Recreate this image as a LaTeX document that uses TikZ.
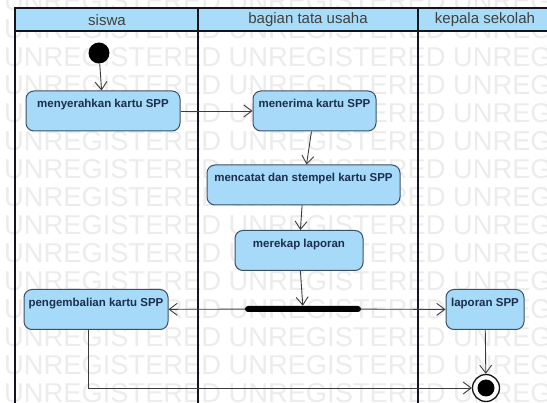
\documentclass[tikz,border=0pt]{standalone}
\usepackage{fontspec}
\setmainfont{Liberation Sans}
\usetikzlibrary{arrows.meta}
\definecolor{lanefill}{RGB}{168,220,248}
\definecolor{actfill}{RGB}{166,218,248}
\definecolor{actline}{RGB}{58,80,104}
\definecolor{acttext}{RGB}{28,46,78}
\definecolor{flow}{RGB}{60,60,60}
\definecolor{wmark}{RGB}{236,236,236}
\definecolor{frame}{RGB}{20,20,28}
\tikzset{
  act/.style={draw=actline, fill=actfill, line width=1pt, rounded corners=8pt,
    inner xsep=0pt, inner ysep=0pt, text height=17pt, text depth=23pt,
    font=\fontsize{11.5}{13}\selectfont\bfseries, text=acttext},
  flowline/.style={draw=flow, line width=0.9pt, -{Straight Barb[length=8pt,width=12pt]}},
  lanehead/.style={font=\fontsize{15}{17}\selectfont, text=black!75, inner sep=0pt},
  wm/.style={font=\fontsize{27.3}{30}\selectfont, text=wmark, anchor=west, inner sep=0pt},
  lane/.style={draw=frame, line width=1.5pt},
}
\begin{document}
\begin{tikzpicture}[x=1pt,y=-1pt]
\useasboundingbox (0,0) rectangle (547,403);
\begin{scope}
\clip (0,0) rectangle (547,403);
\fill[white] (0,0) rectangle (547,403);
% background watermark rows
\foreach \i in {-1,...,13} {
  \node[wm] (wm\i) at (4, 29+28*\i) {UNREGISTERED UNREGISTERED UNREG};
}
% swimlanes
\draw[lane, fill=lanefill] (15,8) rectangle (552,31);
\draw[lane] (15,31) -- (15,410) (198,8) -- (198,410) (418,8) -- (418,410) (552,8) -- (552,410);
\node[lanehead] (h1) at (107,20) {siswa};
\node[lanehead] (h2) at (308,20) {bagian tata usaha};
\node[lanehead] (h3) at (485,20) {kepala sekolah};

% activities
\node[act, minimum width=154pt] (n1) at (103,111) {menyerahkan kartu SPP};
\node[act, minimum width=123pt] (n2) at (314.5,111) {menerima kartu SPP};
\node[act, minimum width=193pt] (n3) at (303.5,185) {mencatat dan stempel kartu SPP};
\node[act, minimum width=128pt] (n4) at (299,250.5) {merekap laporan};
\node[act, minimum width=144pt] (n5) at (96,309.5) {pengembalian kartu SPP};
\node[act, minimum width=78pt] (n6) at (485,309.5) {laporan SPP};

% control nodes
\node[circle, fill=black, inner sep=0pt, minimum size=21pt] (start) at (99,53) {};
\node[rectangle, fill=black, rounded corners=3pt, inner sep=0pt,
      minimum width=116pt, minimum height=6pt] (fork) at (303,309) {};
\node[circle, draw=frame, line width=1.3pt, fill=white, inner sep=0pt, minimum size=27pt] (fin) at (486,388) {};
\node[circle, fill=black, inner sep=0pt, minimum size=17pt] (findot) at (fin) {};
\coordinate (bend) at (88,388);

% flows
\draw[flowline] (start) -- (n1);
\draw[flowline] (n1) -- (n2);
\draw[flowline] (n2) -- (n3);
\draw[flowline] (n3) -- (n4);
\draw[flowline] (n4) -- (fork);
\draw[flowline] (fork) -- (n5);
\draw[flowline] (fork) -- (n6);
\draw[flowline] (n6) -- (fin);
\draw[flowline] (n5.south -| bend) -- (bend) -- (fin);
\end{scope}
\end{tikzpicture}
\end{document}
